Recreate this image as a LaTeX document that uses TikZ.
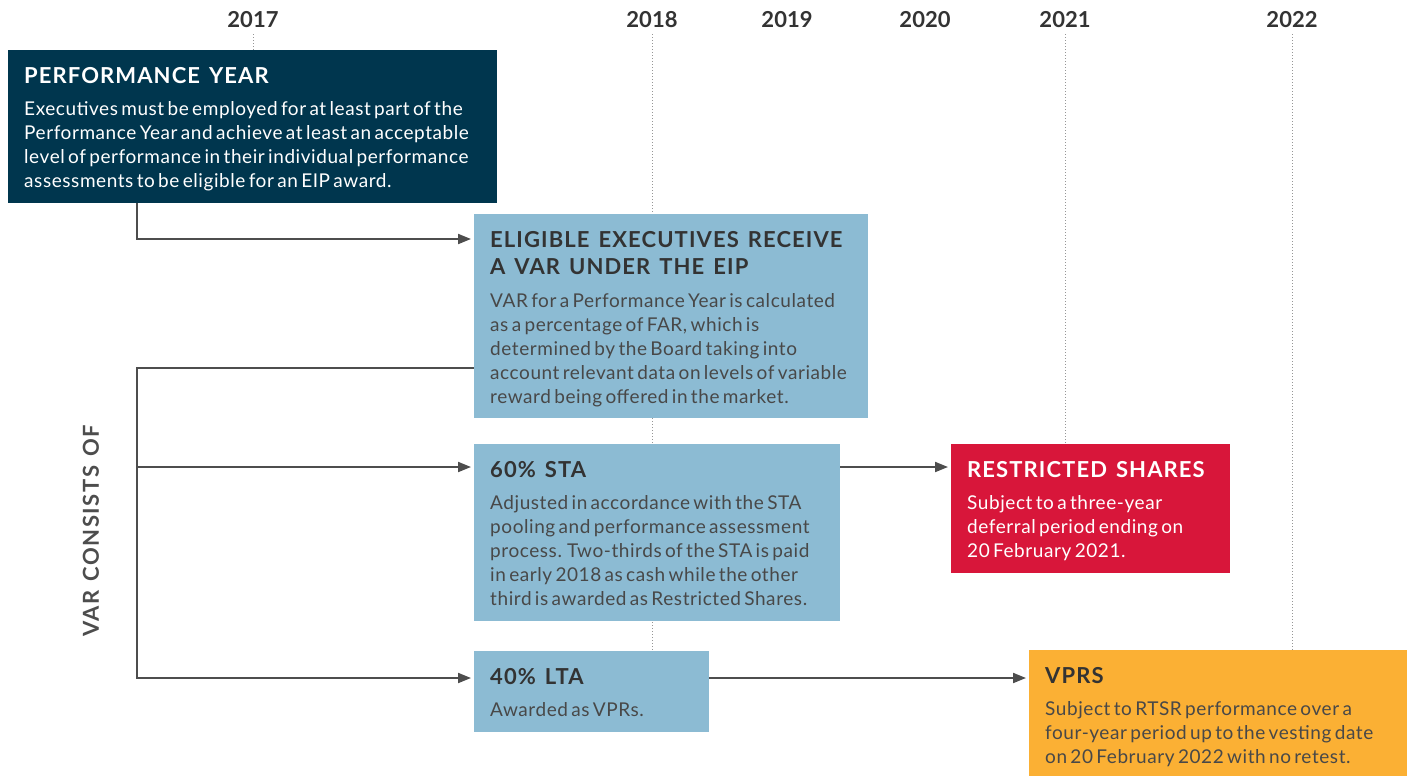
\documentclass[tikz,border=0pt]{standalone}
\usepackage{fontspec}
\setmainfont{Lato}
\usepackage{tikz}
\usetikzlibrary{arrows.meta,positioning,backgrounds}
\usepackage{xcolor}
\definecolor{eipnavy}{RGB}{0,54,78}
\definecolor{eipblue}{RGB}{140,187,211}
\definecolor{eipred}{RGB}{216,22,58}
\definecolor{eiporange}{RGB}{251,176,52}
\definecolor{eipline}{RGB}{77,77,77}
\definecolor{eipdark}{RGB}{51,51,51}
\definecolor{eipbody}{RGB}{72,72,72}
\definecolor{eipdots}{RGB}{150,150,150}

% title and body of one panel
\newcommand{\panel}[2]{%
  {\fontsize{22}{27.5}\selectfont\bfseries\addfontfeatures{LetterSpace=5}%
   \spaceskip=9pt plus 2pt\relax\rule{0pt}{33pt}#1\par}%
  \vspace{8.5pt}%
  {\fontsize{19}{24}\selectfont\addfontfeatures{LetterSpace=3}%
   \hyphenpenalty=10000\relax #2\rule[-15pt]{0pt}{15pt}\par}}
\newcommand{\sidelabel}[1]{{\fontsize{22}{26}\selectfont\bfseries
  \addfontfeatures{LetterSpace=7}\spaceskip=9pt\relax #1}}

\begin{document}
\begin{tikzpicture}[x=1pt, y=-1pt,
  every node/.style={inner sep=0pt},
  box/.style={anchor=north west, align=left, inner xsep=16pt, inner ysep=0pt,
              text width=#1},
  navybox/.style={box=#1, fill=eipnavy, text=white},
  bluebox/.style={box=#1, fill=eipblue, text=eipbody},
  redbox/.style={box=#1, fill=eipred, text=white},
  orangebox/.style={box=#1, fill=eiporange, text=eipbody},
  year/.style={font=\fontsize{22}{26}\selectfont\bfseries, text=eipdark},
  yearline/.style={eipdots, dotted, line width=1pt},
  link/.style={eipline, line width=2pt, -{Triangle[length=13pt, width=10pt]},
               shorten >=3pt}
]
\useasboundingbox (0,0) rectangle (1413,776);

% years
\node[year] (y2017) at (253,20) {2017};
\node[year] (y2018) at (652,20) {2018};
\node[year] (y2019) at (787,20) {2019};
\node[year] (y2020) at (925,20) {2020};
\node[year] (y2021) at (1065,20) {2021};
\node[year] (y2022) at (1292,20) {2022};

% panels
\node[navybox=457pt] (perf) at (8,50)
  {\panel{PERFORMANCE YEAR}{Executives must be employed for at least part of the\\
   Performance Year and achieve at least an acceptable\\
   level of performance in their individual performance\\
   assessments to be eligible for an EIP award.}};
\node[bluebox=362pt] (elig) at (474,214)
  {\panel{\color{eipdark}ELIGIBLE EXECUTIVES RECEIVE\\A VAR UNDER THE EIP}%
   {VAR for a Performance Year is calculated\\
   as a percentage of FAR, which is\\
   determined by the Board taking into\\
   account relevant data on levels of variable\\
   reward being offered in the market.}};
\node[bluebox=334pt] (sta) at (474,444)
  {\panel{\color{eipdark}60\% STA}{Adjusted in accordance with the STA\\
   pooling and performance assessment\\
   process. Two-thirds of the STA is paid\\
   in early 2018 as cash while the other\\
   third is awarded as Restricted Shares.}};
\node[bluebox=203pt] (lta) at (474,651)
  {\panel{\color{eipdark}40\% LTA}{Awarded as VPRs.}};
\node[redbox=247pt] (restr) at (951,444)
  {\panel{RESTRICTED SHARES}{Subject to a three-year\\
   deferral period ending on\\
   20 February 2021.}};
\node[orangebox=346pt] (vprs) at (1029,650)
  {\panel{\color{eipdark}VPRS}{Subject to RTSR performance over a\\
   four-year period up to the vesting date\\
   on 20 February 2022 with no retest.}};

\node[rotate=90, text=eipline] (varof) at (91,531) {\sidelabel{VAR CONSISTS OF}};

% year markers behind the panels
\begin{scope}[on background layer]
\draw[yearline] ([yshift=-6pt]y2017.south) -- (y2017 |- perf.north);
\draw[yearline] ([yshift=-6pt]y2018.south) -- (y2018 |- lta.north);
\draw[yearline] ([yshift=-6pt]y2021.south) -- (y2021 |- restr.north);
\draw[yearline] ([yshift=-6pt]y2022.south) -- (y2022 |- vprs.north);
\end{scope}

% connectors
\coordinate (spine) at (137,368);
\coordinate (eligin) at ([yshift=-25pt]elig.north west);
\coordinate (eligout) at ([yshift=-154pt]elig.north west);
\coordinate (stain) at ([yshift=-23pt]sta.north west);
\coordinate (staout) at ([yshift=-23pt]sta.north east);
\coordinate (ltain) at ([yshift=-27pt]lta.north west);
\coordinate (ltaout) at ([yshift=-27pt]lta.north east);

\draw[link] (perf.south -| spine) |- (eligin);
\draw[link] (eligout) -| (spine |- ltain) -- (ltain);
\draw[link] (spine |- stain) -- (stain);
\draw[link] (staout) -- (staout -| restr.west);
\draw[link] (ltaout) -- (ltaout -| vprs.west);

\end{tikzpicture}
\end{document}
